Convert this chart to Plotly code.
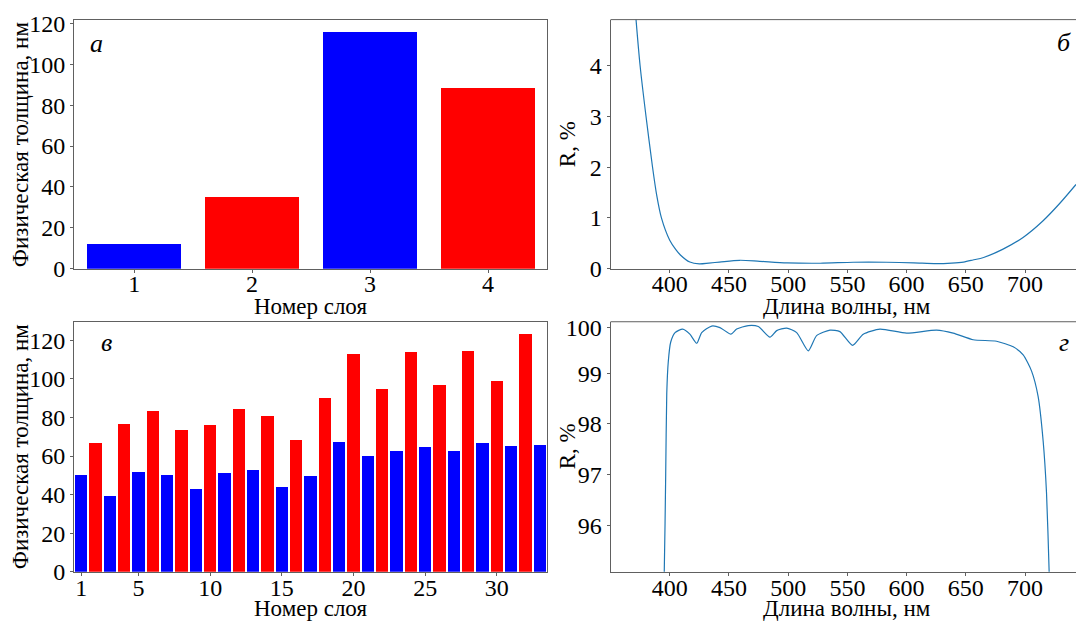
import plotly.graph_objects as go

# ---------------- data ----------------
layers_a = [1, 2, 3, 4]
thick_a = [12.3, 35.1, 116.2, 88.4]
colors_a = ["#0000ff", "#ff0000", "#0000ff", "#ff0000"]

layers_v = list(range(1, 34))
thick_v = [50.2, 66.7, 39.2, 76.7, 51.7, 83.7, 50.2, 73.7, 43.2, 76.2,
           51.2, 84.7, 52.7, 80.7, 44.2, 68.7, 49.7, 90.2, 67.7, 113.2,
           60.2, 94.7, 62.7, 114.2, 64.7, 97.2, 62.7, 114.7, 66.7, 99.2,
           65.2, 123.7, 65.7]

wl_b = [368, 371.6, 375, 380, 385.5, 389, 393, 400, 405, 409, 417, 425, 433,
        442, 459, 476, 499, 527, 555, 583, 606, 625, 638, 648, 656, 665, 681,
        698, 715, 729, 743]
r_b = [6.0, 4.9, 4.0, 3.0, 2.0, 1.45, 1.0, 0.56, 0.38, 0.27, 0.13, 0.095, 0.11,
       0.13, 0.165, 0.145, 0.114, 0.107, 0.126, 0.126, 0.114, 0.10, 0.11, 0.13,
       0.17, 0.22, 0.38, 0.61, 0.94, 1.28, 1.66]

wl_g = [393, 395.4, 396.6, 397.5, 398.8, 400.8, 404.5, 410.9, 417, 422.8, 427,
        435.4, 442.4, 451.7, 456.5, 466.3, 474.8, 484.6, 490.3, 498.7, 507.2,
        517, 524, 535.3, 543.7, 554.4, 563.4, 577.5, 600, 625.3, 639.3, 656.2,
        675.9, 690, 698.4, 705.5, 711, 715.3, 718.1, 720.3, 722]
r_g = [93.5, 95.1, 97.0, 98.6, 99.23, 99.61, 99.8, 99.87, 99.77, 99.59, 99.8,
       99.93, 99.9, 99.77, 99.87, 99.94, 99.92, 99.71, 99.84, 99.89, 99.8,
       99.44, 99.74, 99.85, 99.82, 99.55, 99.77, 99.87, 99.79, 99.85, 99.79,
       99.66, 99.63, 99.52, 99.36, 99.04, 98.54, 97.65, 96.64, 95.1, 93.5]

ticks_a = [1, 2, 3, 4]
ticks_v = [1, 5, 10, 15, 20, 25, 30]
ticks_wl = [400, 450, 500, 550, 600, 650, 700]
ticks_g_vals = [96, 97, 98, 99, 99.9]
ticks_g_text = ["96", "97", "98", "99", "100"]

xlabel_layer = "Номер слоя"
xlabel_wl = "Длина волны, нм"
ylabel_thick = "Физическая толщина, нм"
ylabel_r = "R, %"

# ---------------- layout geometry ----------------
W, H = 1076, 633
FONT = "Liberation Serif, Times New Roman, serif"
SPINE = "#606060"
LINE = "#1f77b4"


def px(x):
    return x / W


def py(y):
    return 1 - y / H


dom_xl = [px(74), px(547)]
dom_xr = [px(610.5), 1.0]
dom_yt = [py(269), py(11)]
dom_yb = [py(583), py(324)]

fig = go.Figure()

fig.add_trace(go.Bar(x=layers_a, y=thick_a, marker_color=colors_a, width=0.8,
                     marker_line_width=0, xaxis="x", yaxis="y", showlegend=False))
fig.add_trace(go.Scatter(x=wl_b, y=r_b, mode="lines", line=dict(color=LINE, width=1.2, shape="spline", smoothing=0.8),
                         xaxis="x2", yaxis="y2", showlegend=False))
colors_v = ["#0000ff" if n % 2 == 1 else "#ff0000" for n in layers_v]
fig.add_trace(go.Bar(x=layers_v, y=thick_v, marker_color=colors_v, width=0.84,
                     marker_line_width=0, xaxis="x3", yaxis="y3", showlegend=False))
fig.add_trace(go.Scatter(x=wl_g, y=r_g, mode="lines", line=dict(color=LINE, width=1.2, shape="spline", smoothing=0.6),
                         xaxis="x4", yaxis="y4", showlegend=False))

tickfont = dict(family=FONT, size=24, color="black")


def ax(**kw):
    d = dict(showgrid=False, zeroline=False, showline=True, linecolor=SPINE, linewidth=1,
             ticks="outside", ticklen=3, tickcolor=SPINE, tickfont=tickfont, fixedrange=True)
    d.update(kw)
    return d


XSTAND = -9

fig.update_layout(
    width=W, height=H, autosize=False,
    margin=dict(l=0, r=0, t=0, b=0),
    paper_bgcolor="white", plot_bgcolor="white",
    font=dict(family=FONT),
    bargap=0,
    xaxis=ax(domain=dom_xl, anchor="y", range=[0.49, 4.5], tickvals=ticks_a, mirror=True, ticklabelstandoff=XSTAND),
    yaxis=ax(domain=dom_yt, anchor="x", range=[0, 121.9], tickvals=[0, 20, 40, 60, 80, 100, 120], mirror=True),
    xaxis2=ax(domain=dom_xr, anchor="y2", range=[350, 743], tickvals=ticks_wl, ticklabelstandoff=XSTAND),
    yaxis2=ax(domain=dom_yt, anchor="x2", range=[0, 4.91], tickvals=[0, 1, 2, 3, 4]),
    xaxis3=ax(domain=dom_xl, anchor="y3", range=[0.5, 33.5], tickvals=ticks_v, mirror=True, ticklabelstandoff=XSTAND),
    yaxis3=ax(domain=dom_yb, anchor="x3", range=[0, 129.7], tickvals=[0, 20, 40, 60, 80, 100, 120], mirror=True),
    xaxis4=ax(domain=dom_xr, anchor="y4", range=[350, 743], tickvals=ticks_wl, ticklabelstandoff=XSTAND),
    yaxis4=ax(domain=dom_yb, anchor="x4", range=[95.08, 100.015], tickvals=ticks_g_vals, ticktext=ticks_g_text),
)

# top spines for right-hand panels (no right spine: cropped in the original)
for xa, ya in (("x2", "y2"), ("x4", "y4")):
    fig.add_shape(type="line", xref=f"{xa} domain", yref=f"{ya} domain", x0=0, x1=1, y0=1, y1=1,
                  line=dict(color=SPINE, width=1))

titlefont = dict(family=FONT, size=23, color="black")


def ann(text, x, y, angle=0, font=titlefont):
    fig.add_annotation(text=text, x=px(x), y=py(y), xref="paper", yref="paper", showarrow=False,
                       xanchor="center", yanchor="middle", textangle=angle, font=font)


ann(xlabel_layer, 310.5, 308)
ann(xlabel_layer, 310.5, 621)
ann(xlabel_wl, 847, 308)
ann(xlabel_wl, 847, 621)
ann(ylabel_thick, 20, 140, angle=-90)
ann(ylabel_thick, 20, 453, angle=-90)
ann(ylabel_r, 567, 140, angle=-90)
ann(ylabel_r, 567, 453, angle=-90)

letterfont = dict(family=FONT, size=26, color="black")
ann("<i>а</i>", 96, 36, font=letterfont)
ann("<i>б</i>", 1064, 35, font=letterfont)
ann("<i>в</i>", 106, 346, font=letterfont)
ann("<i>г</i>", 1064, 346, font=letterfont)

post = (
    "var s=document.createElement('style');"
    "s.textContent='html,body{margin:0!important;padding:0!important;overflow:hidden!important;"
    "width:1076px;height:633px;}';"
    "document.head.appendChild(s);"
)

fig.write_html("out.html", config={"displayModeBar": False, "responsive": False}, post_script=post)
